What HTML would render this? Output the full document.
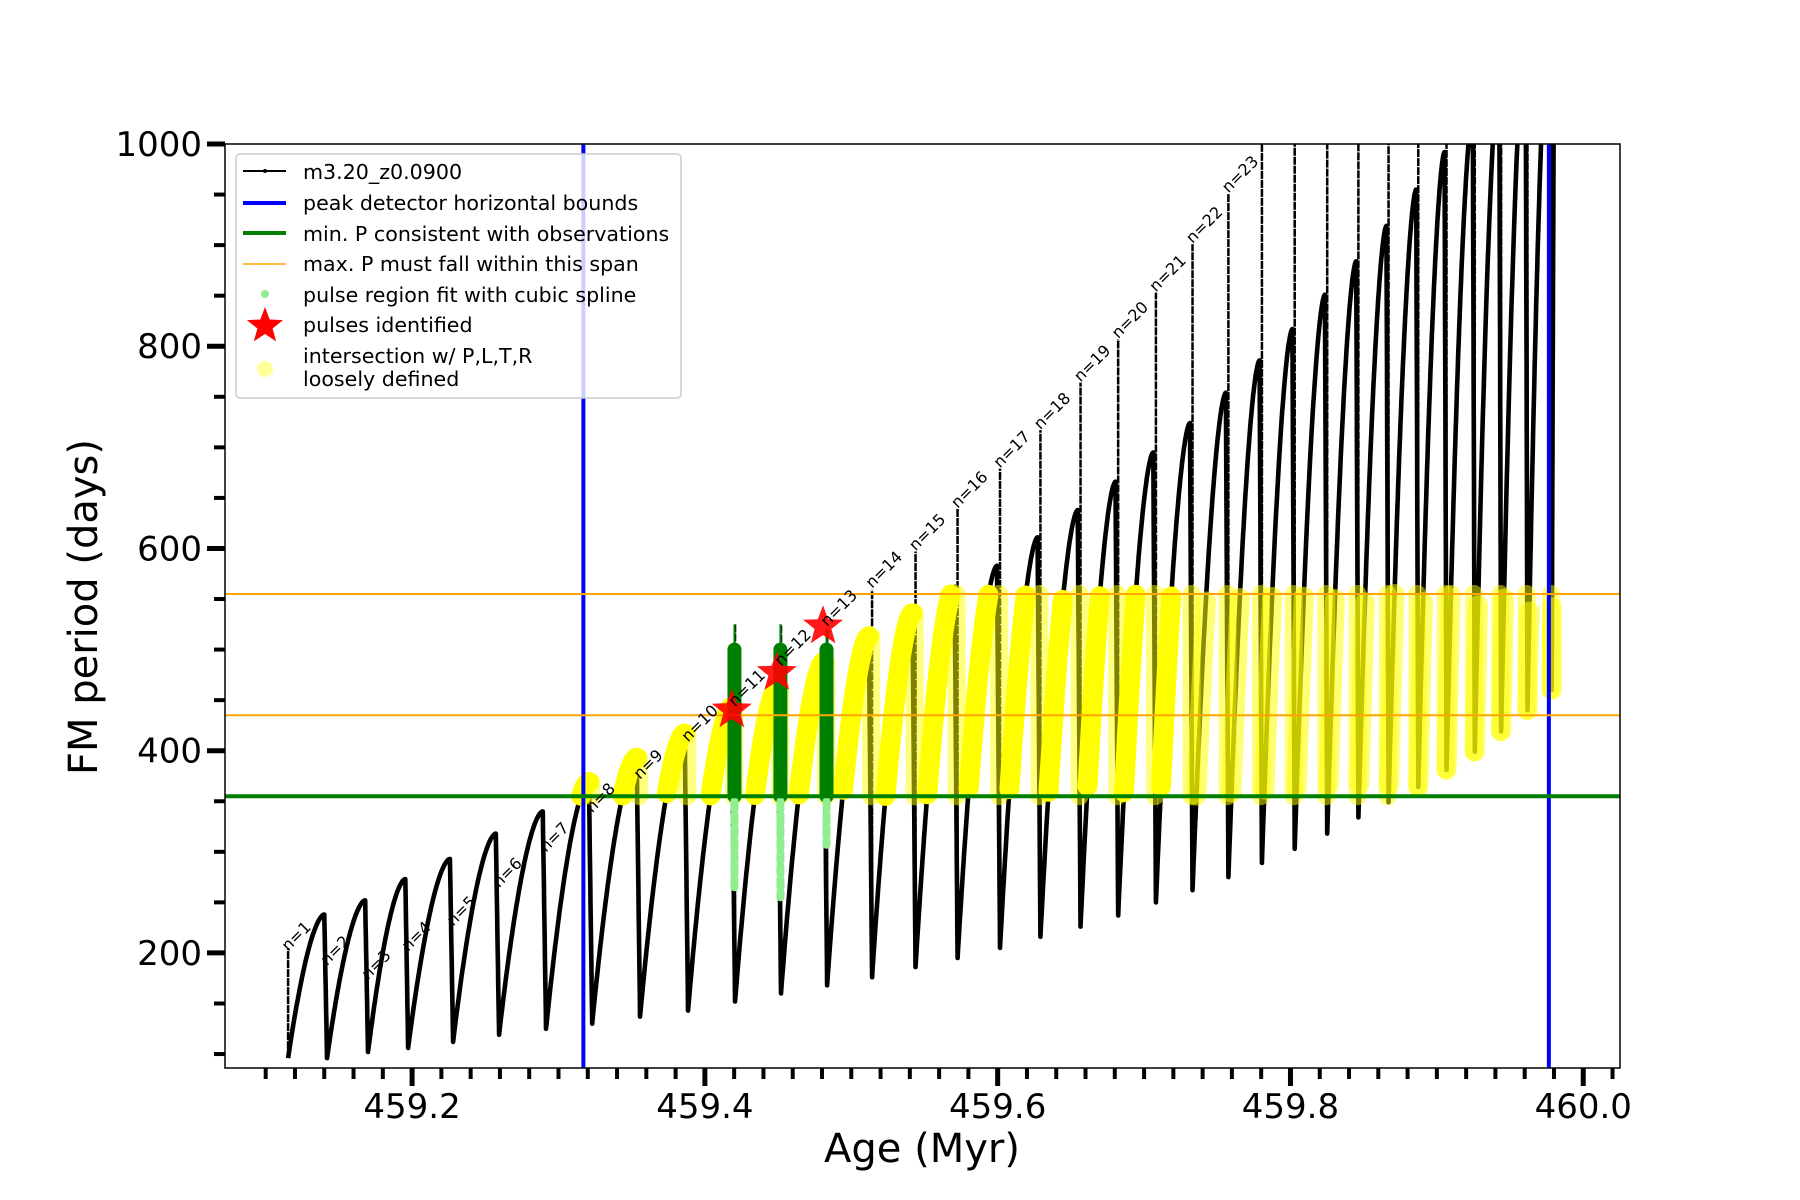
<!DOCTYPE html>
<html><head><meta charset="utf-8"><style>
html,body{margin:0;padding:0;background:#fff}
svg{display:block;font-family:"DejaVu Sans","Liberation Sans",sans-serif}
</style></head><body>
<svg id="chart" width="1800" height="1200" viewBox="0 0 1800 1200" xmlns="http://www.w3.org/2000/svg">
<rect x="0" y="0" width="1800" height="1200" fill="#fff"/>
<g id="plot"></g>
<g id="axes"></g>
<text x="922" y="1162" font-size="40" text-anchor="middle">Age (Myr)</text>
<text x="0" y="0" font-size="40" text-anchor="middle" transform="translate(97,607) rotate(-90)">FM period (days)</text>
<g>
<rect x="236" y="154" width="445" height="244" rx="4" fill="#fff" fill-opacity="0.8" stroke="#ccc" stroke-width="1.5"/>
<g><line x1="243" y1="171" x2="286" y2="171" stroke="#000" stroke-width="2"/><circle cx="265" cy="171" r="2" fill="#000"/><text x="303" y="179" font-size="20.6">m3.20_z0.0900</text></g>
<g><line x1="243" y1="203" x2="286" y2="203" stroke="#0000ff" stroke-width="4"/><text x="303" y="210" font-size="20.6">peak detector horizontal bounds</text></g>
<g><line x1="243" y1="233" x2="286" y2="233" stroke="#008000" stroke-width="4"/><text x="303" y="241" font-size="20.6">min. P consistent with observations</text></g>
<g><line x1="243" y1="264" x2="286" y2="264" stroke="#ffa500" stroke-width="1.5"/><text x="303" y="271" font-size="20.6">max. P must fall within this span</text></g>
<g><circle cx="265" cy="294" r="4" fill="#90ee90"/><text x="303" y="302" font-size="20.6">pulse region fit with cubic spline</text></g>
<g><polygon id="legstar" fill="#ff0000"/><text x="303" y="332" font-size="20.6">pulses identified</text></g>
<g><circle cx="265" cy="369" r="8" fill="#ffff99"/><text x="303" y="363" font-size="20.6">intersection w/ P,L,T,R</text><text x="303" y="386" font-size="20.6">loosely defined</text></g>
</g>
</svg>
<script>
// ---- data ----
const pulseStartAges=[459.1153,459.1419,459.1699,459.1973,459.2280,459.2594,459.2915,459.3230,459.3557,459.3885,459.4206,459.4520,459.4835,459.5142,459.5439,459.5726,459.6016,459.6292,459.6566,459.6823,459.7081,459.7331,459.7576,459.7805,459.8029,459.8251,459.8464,459.8670,459.8873,459.9066,459.9259,459.9439,459.9619,459.9785];
const pulseMinPeriods=[96,96,102,106,112,119,125,130,137,143,152,160,168,176,186,195,205,216,226,237,250,262,275,289,303,318,334,349,364,381,399,419,440,460];
const pulsePeakPeriods=[238,252,273,293,318,340,369,393,417,443,463,488,513,536,562,583,611,638,666,695,724,754,786,817,851,884,919,955,992,1030,1070,1110,1150,1200];
const spikeTopPeriods=[205,0,0,0,0,0,0,0,0,0,525,525,520,559,597,639,679,717,764,807,853,901,951,1100,1100,1100,1100,1100,1100,1100,1100,1100,1100,1100];
const endAge=459.981;
const labelNames=["n=1","n=2","n=3","n=4","n=5","n=6","n=7","n=8","n=9","n=10","n=11","n=12","n=13","n=14","n=15","n=16","n=17","n=18","n=19","n=20","n=21","n=22","n=23"];
const labelPeriods=[201,187,173,201,226,264,299,338,371,408,443,483,522,560,597,639,679,717,764,807,853,901,951];
const boundAges=[459.317,459.9765];
const minPeriodLine=[355];
const maxPeriodLines=[435,555];
const identifiedIdx=[10,11,12];
const greenTop=[500,500,500];
const greenSpikeTop=[525,525,520];
const splineLow=[262,255,307];
const starAges=[459.4184,459.4491,459.4807];
const starPeriods=[440,477,523];
const xTickVals=[459.2,459.4,459.6,459.8,460.0];
const xTickLabels=["459.2","459.4","459.6","459.8","460.0"];
const yTickVals=[200,400,600,800,1000];
const yTickLabels=["200","400","600","800","1000"];

// ---- axes ----
const L=225,R=1620,T=144,B=1068;
const xmin=459.0722,xmax=460.0251,ymin=86.2,ymax=1000;
const X=a=>L+(a-xmin)/(xmax-xmin)*(R-L);
const Y=v=>B-(v-ymin)/(ymax-ymin)*(B-T);
const NS="http://www.w3.org/2000/svg";
const plot=document.getElementById('plot'),axes=document.getElementById('axes');
function mk(tag,attrs,parent){const e=document.createElementNS(NS,tag);for(const k in attrs)e.setAttribute(k,attrs[k]);(parent||plot).appendChild(e);return e;}

const cp=mk('clipPath',{id:'cp'});mk('rect',{x:L,y:T,width:R-L,height:B-T},cp);
const g=mk('g',{'clip-path':'url(#cp)'});

function pulseSamples(i){
  const t0=pulseStartAges[i],t1=i+1<pulseStartAges.length?pulseStartAges[i+1]:endAge;
  const m=pulseMinPeriods[i],p=pulsePeakPeriods[i];
  const m2=i+1<pulseMinPeriods.length?pulseMinPeriods[i+1]:p;
  const rise=[],drop=[];const N=60;
  for(let k=0;k<=N;k++){const u=k/N;const s=u*0.93;const f=1-Math.pow(1-u,1.7);rise.push([t0+s*(t1-t0),m+(p-m)*f]);}
  if(i+1<pulseStartAges.length){for(let k=0;k<=12;k++){const s=0.93+0.07*k/12;drop.push([t0+s*(t1-t0),p+(m2-p)*k/12]);}}
  return {rise,drop};
}
const allPts=[];const pulses=[];
for(let i=0;i<pulseStartAges.length;i++){const ps=pulseSamples(i);pulses.push(ps);allPts.push(...ps.rise,...ps.drop);}
const ptsStr=a=>a.map(q=>X(q[0]).toFixed(1)+','+Y(q[1]).toFixed(1)).join(' ');

for(let i=0;i<pulseStartAges.length;i++){
  if(!spikeTopPeriods[i])continue;
  const x=X(pulseStartAges[i]);
  const s=mk('line',{x1:x,x2:x,y1:Y(pulseMinPeriods[i]),y2:Y(spikeTopPeriods[i]),stroke:'#000','stroke-width':2.5,'stroke-dasharray':'8 1'},g);
  
  
}
const curve=mk('polyline',{points:ptsStr(allPts),fill:'none',stroke:'#000','stroke-width':4.6,'stroke-linejoin':'round'},g);



function segsInRange(arr,lo,hi,minAge){const out=[];let cur=[];
  for(const q of arr){if(q[1]>=lo&&q[1]<=hi&&q[0]>=minAge){cur.push(q);}else{if(cur.length)out.push(cur);cur=[];}}
  if(cur.length)out.push(cur);return out;}
for(let i=0;i<pulses.length;i++){
  const lo=minPeriodLine[0],hi=maxPeriodLines[1];
  const bright=pulseStartAges[i]<459.72;
  for(const s of segsInRange(pulses[i].rise,lo,hi,459.311)){
    const pl=mk('polyline',{points:ptsStr(s.length>1?s:[s[0],s[0]]),fill:'none',stroke:'#ffff00','stroke-opacity':bright?1:0.55,'stroke-width':20,'stroke-linecap':'round','stroke-linejoin':'round'},g);
    
    
  }
  if(i+1<pulses.length&&pulseStartAges[i+1]>459.32){
    const x=X(pulseStartAges[i+1]-0.0006);
    const top=Math.min(hi,pulsePeakPeriods[i]),bot=Math.max(lo,pulseMinPeriods[i+1]);
    if(top>bot){const c=mk('line',{x1:x,x2:x,y1:Y(top),y2:Y(bot),stroke:'#ffff00','stroke-opacity':0.5,'stroke-width':18,'stroke-linecap':'round'},g);
    
    }
  }
}
identifiedIdx.forEach((idx,j)=>{
  const x=X(pulseStartAges[idx]-0.0004);
  const l=mk('line',{x1:x,x2:x,y1:Y(minPeriodLine[0]),y2:Y(greenSpikeTop[j]),stroke:'#008000','stroke-width':2},g);
  
  
  const b=mk('line',{x1:x,x2:x,y1:Y(minPeriodLine[0]),y2:Y(greenTop[j]),stroke:'#008000','stroke-width':14,'stroke-linecap':'round'},g);
  
  
  const s=mk('line',{x1:x,x2:x,y1:Y(minPeriodLine[0]-5),y2:Y(splineLow[j]),stroke:'#90ee90','stroke-width':8,'stroke-linecap':'round','stroke-dasharray':'8 5'},g);
  
  
});
boundAges.forEach(a=>{const l=mk('line',{x1:X(a),x2:X(a),y1:T,y2:B,stroke:'#0000ff','stroke-width':4},g);
  
  });
const gl=mk('line',{x1:L,x2:R,y1:Y(minPeriodLine[0]),y2:Y(minPeriodLine[0]),stroke:'#008000','stroke-width':4},g);


maxPeriodLines.forEach(v=>{const l=mk('line',{x1:L,x2:R,y1:Y(v),y2:Y(v),stroke:'#ffa500','stroke-width':2},g);
  
  });
function starPts(cx,cy,ro){const ri=ro*0.42;const a=[];for(let k=0;k<10;k++){const r=k%2?ri:ro;const ang=-Math.PI/2+k*Math.PI/5;a.push((cx+r*Math.cos(ang)).toFixed(1)+','+(cy+r*Math.sin(ang)).toFixed(1));}return a.join(' ');}
starAges.forEach((a,j)=>{const s=mk('polygon',{points:starPts(X(a),Y(starPeriods[j]),21),fill:'#ff0000','fill-opacity':0.9},g);
  
  });
document.getElementById('legstar').setAttribute('points',starPts(265,326,19));
labelNames.forEach((n,j)=>{const x=X(pulseStartAges[j]),y=Y(labelPeriods[j]);
  const t=mk('text',{x:0,y:0,'font-size':16,transform:`translate(${x.toFixed(1)},${y.toFixed(1)}) rotate(-45)`});
  t.textContent=n;
  
  });

const fr=mk('rect',{x:L,y:T,width:R-L,height:B-T,fill:'none',stroke:'#000','stroke-width':1.5},axes);


for(let k=0;k<=46;k++){const v=Math.round((459.10+k*0.02)*100)/100;const x=X(v);
  const maj=Math.abs(v*5-Math.round(v*5))<1e-6;
  const t=mk('line',{x1:x,x2:x,y1:B,y2:B+(maj?18:11),stroke:'#000','stroke-width':maj?5:4},axes);
  
  }
xTickVals.forEach((v,j)=>{const t=mk('text',{x:X(v),y:1118,'font-size':34,'text-anchor':'middle'},axes);t.textContent=xTickLabels[j];
  
  });
for(let v=100;v<=1000;v+=50){const y=Y(v);const maj=v%200===0;
  const t=mk('line',{x1:L-(maj?18:11),x2:L,y1:y,y2:y,stroke:'#000','stroke-width':maj?5:4},axes);
  
  }
yTickVals.forEach((v,j)=>{const t=mk('text',{x:202,y:Y(v)+12,'font-size':34,'text-anchor':'end'},axes);t.textContent=yTickLabels[j];
  
  });
</script>
</body></html>
